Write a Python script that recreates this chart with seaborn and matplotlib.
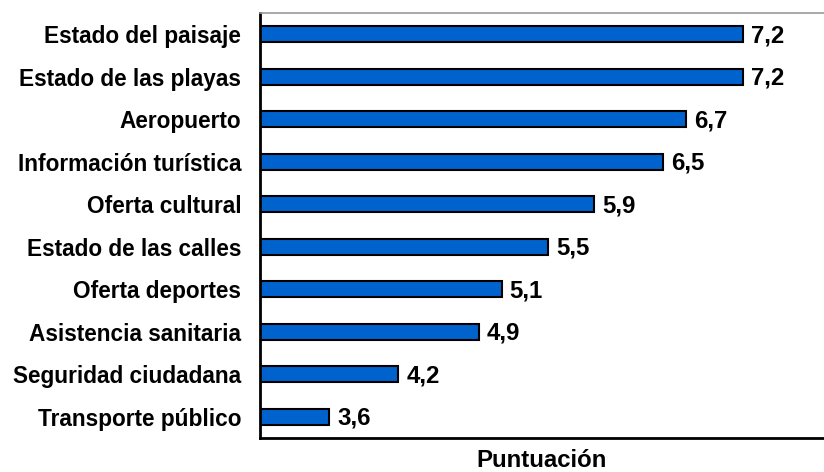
import pandas as pd
import matplotlib.pyplot as plt
import seaborn as sns

# data
categorias = [
    "Estado del paisaje",
    "Estado de las playas",
    "Aeropuerto",
    "Información turística",
    "Oferta cultural",
    "Estado de las calles",
    "Oferta deportes",
    "Asistencia sanitaria",
    "Seguridad ciudadana",
    "Transporte público",
]
puntuaciones = [7.2, 7.2, 6.7, 6.5, 5.9, 5.5, 5.1, 4.9, 4.2, 3.6]

df = pd.DataFrame({"categoria": categorias, "puntuacion": puntuaciones})

sns.set_style("white")
plt.rcParams["font.family"] = ["Liberation Sans", "DejaVu Sans"]
plt.rcParams["text.color"] = "black"
plt.rcParams["axes.labelcolor"] = "black"
plt.rcParams["ytick.color"] = "black"

fig = plt.figure(figsize=(8.24, 4.72), dpi=100)
ax = fig.add_axes([0.3155, 0.072, 0.6845, 0.9005])

sns.barplot(data=df, x="puntuacion", y="categoria", orient="h",
            color="#0062CC", saturation=1, width=0.38,
            edgecolor="black", linewidth=1.5, ax=ax)

# bars start at 3, not at 0
x0 = 3.0
for patch in ax.patches:
    w = patch.get_width()
    patch.set_x(x0)
    patch.set_width(w - x0)

for i, v in enumerate(puntuaciones):
    ax.text(v + 0.07, i + 0.04, f"{v:.1f}".replace(".", ","), va="center", ha="left",
            fontsize=17.3, fontweight="bold", color="black")

ax.set_xlim(x0, 7.9)
ax.set_ylim(9.5, -0.5)
ax.set_xticks([])
ax.set_ylabel("")
ax.set_xlabel("Puntuación", fontsize=17.3, fontweight="bold", labelpad=8)
ax.tick_params(axis="y", length=0, pad=13.5)
for lbl in ax.get_yticklabels():
    lbl.set_fontweight("bold")
    lbl.set_fontsize(16.3)
    lbl.set_color("black")

for side in ["left", "bottom"]:
    ax.spines[side].set_color("black")
    ax.spines[side].set_linewidth(2)
ax.spines["top"].set_color("#999999")
ax.spines["top"].set_linewidth(1.2)
ax.spines["right"].set_visible(False)

fig.savefig("out.png", dpi=100)
